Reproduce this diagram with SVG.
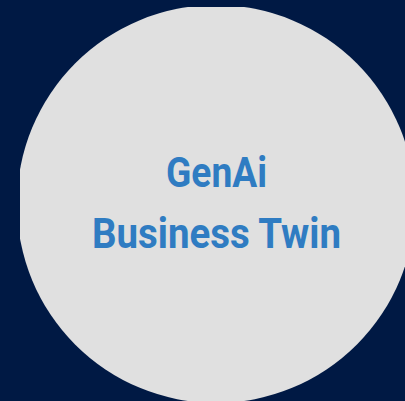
<svg xmlns="http://www.w3.org/2000/svg" width="405" height="401" viewBox="0 0 405 401">
  <style>
    .bg { fill: #001944; }
    .disc { fill: #e0e0e0; }
    .label { font-family: Roboto, "Liberation Sans", sans-serif; font-weight: bold; font-size: 42px; fill: #2f7cc2; text-anchor: middle; }
  </style>
  <defs>
    <clipPath id="clip">
      <rect x="20" y="7" width="385" height="394"/>
    </clipPath>
  </defs>
  <rect class="bg" x="0" y="0" width="405" height="401"/>
  <g id="node-genai">
    <circle class="disc" cx="216" cy="204" r="199" clip-path="url(#clip)"/>
    <text class="label" x="216.5" y="187" textLength="101" lengthAdjust="spacingAndGlyphs">GenAi</text>
    <text class="label" x="216.5" y="248" textLength="249" lengthAdjust="spacingAndGlyphs">Business Twin</text>
  </g>
  <g id="connectors"/>
</svg>
